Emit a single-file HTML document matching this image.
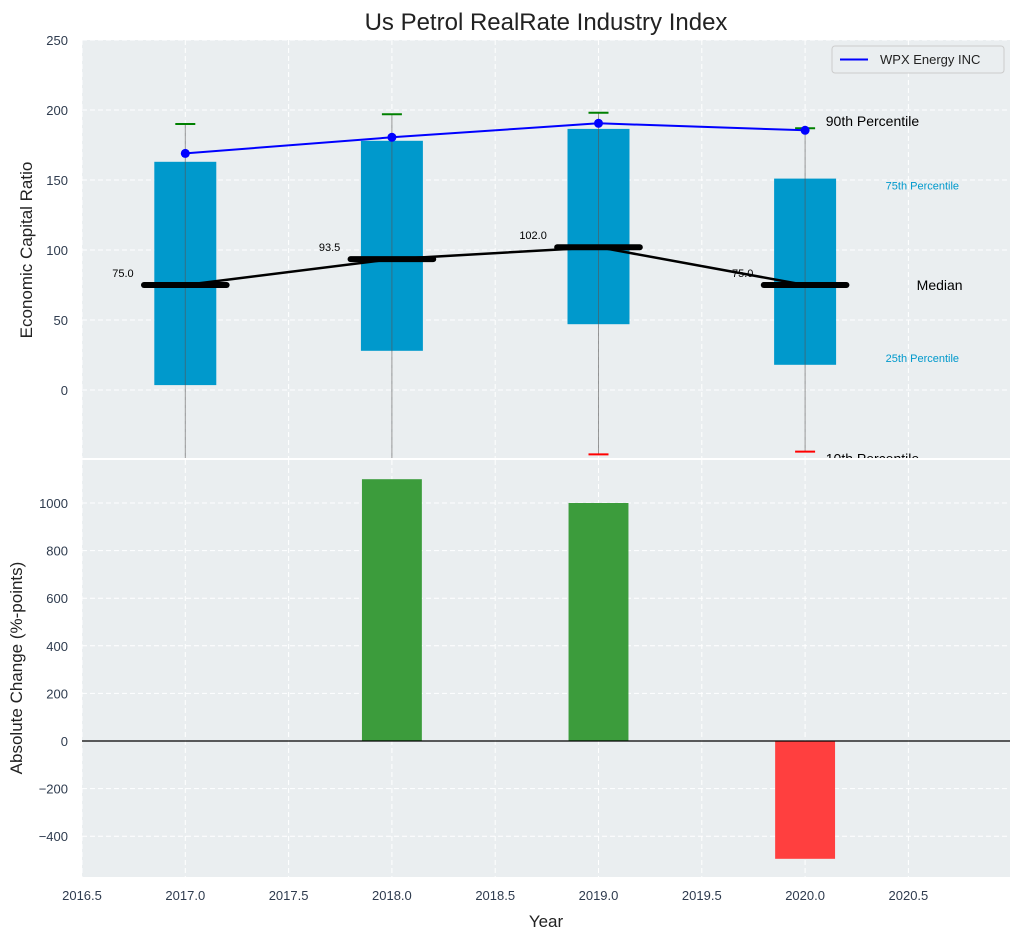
<!DOCTYPE html>
<html><head><meta charset="utf-8"><style>
body{margin:0;background:#fff;}
svg{font-family:"Liberation Sans",Arial,sans-serif;}
</style></head><body>
<svg id="c" width="1021" height="940" xmlns="http://www.w3.org/2000/svg"></svg>
<script>
const years=[2017,2018,2019,2020];
const p10=[-60,-60,-46,-44];
const p25=[3.5,28,47,18];
const medians=[75,93.5,102,75];
const p75=[163,178,186.5,151];
const p90=[190,197,198,187];
const company=[169,180.5,190.5,185.5];
const changes=[0,1100,1000,-495];
const xTicks=[2016.5,2017,2017.5,2018,2018.5,2019,2019.5,2020,2020.5];
const yTopTicks=[0,50,100,150,200,250];
const yBotTicks=[-400,-200,0,200,400,600,800,1000];

const NS="http://www.w3.org/2000/svg";
const svg=document.getElementById('c');
function el(t,a,p){const e=document.createElementNS(NS,t);for(const k in a)e.setAttribute(k,a[k]);(p||svg).appendChild(e);return e;}
const X0=82,X1=1010;
const x=v=>X0+(v-2016.5)*206.6;
const T0=40,T1=458,B0=460,B1=877;
const yT=v=>390-v*1.4;
const yB=v=>741-v*0.238;

const defs=el('defs',{});
const c1=el('clipPath',{id:'ct'},defs);el('rect',{x:X0,y:T0,width:X1-X0,height:T1-T0},c1);
const c2=el('clipPath',{id:'cb'},defs);el('rect',{x:X0,y:B0,width:X1-X0,height:B1-B0},c2);

let r=el('rect',{x:X0,y:T0,width:X1-X0,height:T1-T0,fill:'#eaeef0'});


const gT=el('g',{'clip-path':'url(#ct)'});


// 10th percentile label (drawn before bottom panel so it gets covered)
const last=years.length-1;
let t10=el('text',{x:x(2020.1),y:yT(p10[last]-5)+5,'font-size':14,fill:'#000'});t10.textContent='10th Percentile';


r=el('rect',{x:X0,y:B0,width:X1-X0,height:B1-B0,fill:'#eaeef0'});

const gB=el('g',{'clip-path':'url(#cb)'});


xTicks.forEach(t=>{
 el('line',{x1:x(t),x2:x(t),y1:T0,y2:T1,stroke:'#fff','stroke-dasharray':'5,3','stroke-width':1},gT);
 el('line',{x1:x(t),x2:x(t),y1:B0,y2:B1,stroke:'#fff','stroke-dasharray':'5,3','stroke-width':1},gB);
 const tx=el('text',{x:x(t),y:900,'text-anchor':'middle','font-size':13,fill:'#2e3b4e'});tx.textContent=t.toFixed(1);
 
});
yTopTicks.forEach(t=>{
 el('line',{x1:X0,x2:X1,y1:yT(t),y2:yT(t),stroke:'#fff','stroke-dasharray':'5,3'},gT);
 const tx=el('text',{x:68,y:yT(t)+5,'text-anchor':'end','font-size':13,fill:'#2e3b4e'});tx.textContent=t;
 
});
yBotTicks.forEach(t=>{
 el('line',{x1:X0,x2:X1,y1:yB(t),y2:yB(t),stroke:'#fff','stroke-dasharray':'5,3'},gB);
 const tx=el('text',{x:68,y:yB(t)+5,'text-anchor':'end','font-size':13,fill:'#2e3b4e'});tx.textContent=t<0?'\u2212'+(-t):t;
 
});

years.forEach((yr,i)=>{
 const b=el('rect',{x:x(yr-0.15),y:yT(p75[i]),width:0.3*206.6,height:yT(p25[i])-yT(p75[i]),fill:'#0099cc'},gT);
 
 el('line',{x1:x(yr),x2:x(yr),y1:yT(p10[i]),y2:yT(p90[i]),stroke:'#555','stroke-opacity':0.6,'stroke-width':1},gT);
 const cg=el('line',{x1:x(yr)-10,x2:x(yr)+10,y1:yT(p90[i]),y2:yT(p90[i]),stroke:'green','stroke-width':2},gT);
 
 const cr=el('line',{x1:x(yr)-10,x2:x(yr)+10,y1:yT(p10[i]),y2:yT(p10[i]),stroke:'red','stroke-width':2},gT);
 
});
el('polyline',{points:years.map((yr,i)=>x(yr)+','+yT(medians[i])).join(' '),fill:'none',stroke:'#000','stroke-width':2.5},gT);
years.forEach((yr,i)=>{
 const m=el('line',{x1:x(yr-0.2),x2:x(yr+0.2),y1:yT(medians[i]),y2:yT(medians[i]),stroke:'#000','stroke-width':6,'stroke-linecap':'round'},gT);
 
 const t=el('text',{x:x(yr-0.25),y:yT(medians[i])-8,'text-anchor':'end','font-size':11,fill:'#000'},gT);t.textContent=medians[i].toFixed(1);
 
});
el('polyline',{points:years.map((yr,i)=>x(yr)+','+yT(company[i])).join(' '),fill:'none',stroke:'blue','stroke-width':2},gT);
years.forEach((yr,i)=>{const p=el('circle',{cx:x(yr),cy:yT(company[i]),r:4.5,fill:'blue'},gT);
 });
[[p90[last]+5,'90th Percentile',14,'#000',x(2020.1)],[p75[last]-5,'75th Percentile',11,'#0099cc',x(2020.39)],[medians[last],'Median',14,'#000',x(2020.54)],[p25[last]+5,'25th Percentile',11,'#0099cc',x(2020.39)]].forEach(a=>{
 const t=el('text',{x:a[4],y:yT(a[0])+(a[2]>12?5:4),'font-size':a[2],fill:a[3]},gT);t.textContent=a[1];
 
});

years.forEach((yr,i)=>{
 if(!changes[i])return;
 const v=changes[i];
 const b=el('rect',{x:x(yr-0.145),y:Math.min(yB(v),yB(0)),width:0.29*206.6,height:Math.abs(yB(v)-yB(0)),fill:v>0?'#3c9c3c':'#ff3f3f'},gB);
 
});
el('line',{x1:X0,x2:X1,y1:yB(0),y2:yB(0),stroke:'#000','stroke-width':1.2},gB);
el('rect',{x:X0,y:T1,width:X1-X0,height:2,fill:'#fff'});

const lg=el('g',{});
el('rect',{x:832,y:46,width:172,height:27,rx:3,fill:'#eaeef0',stroke:'#ccc'},lg);
el('line',{x1:840,x2:868,y1:59.5,y2:59.5,stroke:'blue','stroke-width':2},lg);
const lt=el('text',{x:880,y:64,'font-size':13,fill:'#222'},lg);lt.textContent='WPX Energy INC';

let t=el('text',{x:546,y:30,'text-anchor':'middle','font-size':24,fill:'#222'});t.textContent='Us Petrol RealRate Industry Index';

t=el('text',{x:546,y:927,'text-anchor':'middle','font-size':17,fill:'#222'});t.textContent='Year';

t=el('text',{x:32,y:250,'text-anchor':'middle','font-size':17,fill:'#222',transform:'rotate(-90 32 250)'});t.textContent='Economic Capital Ratio';

t=el('text',{x:22,y:668,'text-anchor':'middle','font-size':17,fill:'#222',transform:'rotate(-90 22 668)'});t.textContent='Absolute Change (%-points)';

</script>
</body></html>
